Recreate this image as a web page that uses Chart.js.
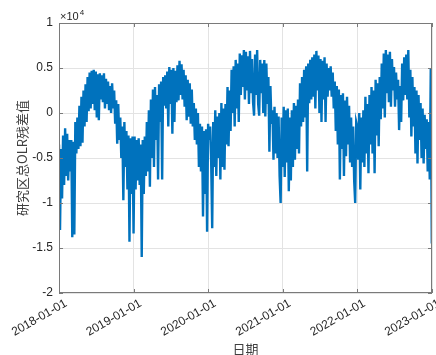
<!DOCTYPE html>
<html>
<head>
<meta charset="utf-8">
<script src="https://cdn.jsdelivr.net/npm/chart.js@4"></script>
<style>
  html, body { margin: 0; padding: 0; background: #fff; }
</style>
</head>
<body>
<canvas id="chart" width="436" height="355"></canvas>
<script>
// residual values, one value every 5 days
const y2018 = [-3500, -13000, -4000, -9500, -2500, -8000, -1700, -7000, -2300, -7500, -3000, -6500,
  -3000, -13800, -3200, -13500, -1000, -4500, -500, -4000, 800, -3700, 1800, -3300,
  2500, -1500, 3200, -1000, 4000, 200, 4500, 500, 4700, 1000, 4800, 300,
  4600, -500, 4300, -800, 4400, 1500, 4200, 1200, 4400, 500, 3800, 1000,
  3500, 300, 3000, 0, 3300, 500, 2500, -1200, 1400, -3400, 1000, -3000,
  -500, -5000, -1500, -9700, -1000, -6000, -2000, -8500, -2500, -14300, -2800, -9000, -2600];
const y2019 = [-13400, -2600, -8500, -3000, -7500, -2800, -8000, -3500, -16000, -3000, -9000, -2600,
  -7000, -1000, -6500, 300, -8200, 1500, -5000, 2600, -6000, 2900, -3000, 2000,
  -7400, 3200, -1000, 3500, -7400, 4000, 800, 4200, 500, 4600, -1500, 5100,
  1000, 4800, -2300, 5000, -1000, 4700, 1200, 5300, 1400, 5800, 2000, 5400,
  1500, 4800, 700, 4200, -800, 3700, -400, 3300, -1200, 2600, -1500, 1100,
  -3000, 500, -3500, 0, -6000, -1200, -6500, -1500, -11500, -2000, -9000, -1800, -13200];
const y2020 = [-1200, -3000, -1500, -5500, -12800, -1000, -6000, 300, -7000, -400, -5000, 0,
  -7400, 1100, -6000, 500, -6300, 1000, -3500, 2900, -3700, 2500, -2000, 4800,
  0, 5200, -1500, 5900, 500, 5500, -1000, 6600, 2000, 6400, 2900, 7000,
  1500, 6800, 2500, 6300, 1000, 6900, 2200, 6000, 1200, -300, 6500, 2000,
  7000, 1000, -300, 5900, 2200, 5500, 0, 5900, -400, 5500, 1000, 4000,
  -4300, 3000, -1200, 300, -5200, 700, -4500, 0, -5000, -400, -7000, -10000, -500];
const y2021 = [-6000, 700, -7100, 300, -5500, 500, -8700, -500, -7500, 300, -6000, 1100,
  -5200, 800, -4000, 1500, -4500, 3300, -1500, 4000, -1000, 4800, -500, 5200,
  -6500, 5500, 1100, 5900, 1500, 6200, 1800, 6500, 500, 6900, 2500, 6400,
  0, 6000, -1000, 5800, 1500, 6200, -1000, 5500, 1800, 5000, 2500, 5200,
  1800, 4500, 500, 3500, -2000, 3000, -3500, 2600, -7400, 2000, -4000, 2200,
  -7000, 1400, -4800, 1800, -3500, 800, -5500, -500, -6000, -1500, -7500, -10000, -1000];
const y2022 = [-1500, -5200, 0, -8500, -500, -5500, 300, -6000, 1800, -4500, 1000, -6700,
  2000, -3500, 2900, -4500, 2500, -6700, 3700, -2500, 3300, -3700, 4000, -700,
  5500, 500, 6600, -500, 7000, 2200, 6500, 1200, 6800, 700, 6000, 2500,
  5100, 700, 4500, 1500, 3700, -1900, 3000, -1000, 5500, 1400, 6200, 2000,
  6500, 1500, 7000, -500, 4800, -2600, 4000, -1500, 2900, -4500, 2500, -5600,
  2000, -3000, 1100, -5000, 500, -5600, -200, -4000, -700, -6500, -1000, -7400, 5000, -14500];

const yearSeries = [y2018, y2019, y2020, y2021, y2022];
const yearStartDay = [0, 365, 730, 1095, 1460];
const stepDays = 5;

const xTickDays = [0, 365, 730, 1096, 1461, 1826];
const xTickLabels = ["2018-01-01", "2019-01-01", "2020-01-01", "2021-01-01", "2022-01-01", "2023-01-01"];
const yTickValues = [-20000, -15000, -10000, -5000, 0, 5000, 10000];
const yTickLabels = ["-2", "-1.5", "-1", "-0.5", "0", "0.5", "1"];

const points = [];
yearSeries.forEach((arr, k) => {
  arr.forEach((v, i) => points.push({ x: yearStartDay[k] + i * stepDays, y: v }));
});

const tickFont = { family: "'Liberation Sans', Arial, sans-serif", size: 12 };
const cjkFont = { family: "'Noto Sans CJK SC', sans-serif", size: 13 };

// box, inner tick marks, rotated date labels and the x10^4 exponent, matlab style
const matlabAxes = {
  id: "matlabAxes",
  afterDraw(chart) {
    const { ctx, chartArea: a } = chart;
    const xs = chart.scales.x, ys = chart.scales.y;
    ctx.save();
    ctx.strokeStyle = "#7a7a7a";
    ctx.lineWidth = 1;
    ctx.strokeRect(a.left + 0.5, a.top + 0.5, a.right - a.left - 1, a.bottom - a.top - 1);
    ctx.beginPath();
    xTickDays.forEach((d) => {
      const px = Math.round(xs.getPixelForValue(d)) + 0.5;
      ctx.moveTo(px, a.bottom); ctx.lineTo(px, a.bottom - 4);
      ctx.moveTo(px, a.top); ctx.lineTo(px, a.top + 4);
    });
    yTickValues.forEach((v) => {
      const py = Math.round(ys.getPixelForValue(v)) + 0.5;
      ctx.moveTo(a.left, py); ctx.lineTo(a.left + 4, py);
      ctx.moveTo(a.right, py); ctx.lineTo(a.right - 4, py);
    });
    ctx.stroke();

    ctx.fillStyle = "#262626";
    ctx.font = "12px 'Liberation Sans', Arial, sans-serif";
    ctx.textAlign = "right";
    ctx.textBaseline = "middle";
    xTickDays.forEach((d, i) => {
      const px = xs.getPixelForValue(d);
      ctx.save();
      ctx.translate(px + 7, a.bottom + 9.5);
      ctx.rotate(-Math.PI / 6);
      ctx.fillText(xTickLabels[i], 0, 0);
      ctx.restore();
    });

    ctx.textAlign = "left";
    ctx.textBaseline = "alphabetic";
    ctx.font = "11px 'Liberation Sans', Arial, sans-serif";
    ctx.fillText("×10", a.left + 1, a.top - 3);
    const w = ctx.measureText("×10").width;
    ctx.font = "8px 'Liberation Sans', Arial, sans-serif";
    ctx.fillText("4", a.left + 1 + w + 1, a.top - 8);
    ctx.restore();
  }
};

new Chart(document.getElementById("chart"), {
  type: "line",
  data: {
    datasets: [{
      data: points,
      borderColor: "#0072BD",
      borderWidth: 2.4,
      pointRadius: 0,
      tension: 0,
      fill: false,
    }],
  },
  options: {
    responsive: false,
    animation: false,
    parsing: false,
    layout: { padding: { top: 23, right: 4, left: 0, bottom: 0 } },
    plugins: { legend: { display: false }, tooltip: { enabled: false } },
    scales: {
      x: {
        type: "linear",
        min: 0,
        max: 1826,
        afterBuildTicks: (s) => { s.ticks = xTickDays.map((d) => ({ value: d })); },
        afterFit: (s) => { s.height = 62; s.paddingLeft = 0; s.paddingRight = 0; },
        ticks: { display: false },
        grid: { color: "#e3e3e3", drawTicks: false },
        border: { display: false },
        title: { display: true, text: "日期", font: cjkFont, color: "#404040", padding: { top: 0, bottom: -2 } },
      },
      y: {
        min: -20000,
        max: 10000,
        afterBuildTicks: (s) => { s.ticks = yTickValues.map((v) => ({ value: v })); },
        afterFit: (s) => { s.width = 59; },
        ticks: {
          padding: 6,
          font: tickFont,
          color: "#262626",
          callback: (v) => yTickLabels[yTickValues.indexOf(v)],
        },
        grid: { color: "#e3e3e3", drawTicks: false },
        border: { display: false },
        title: { display: true, text: "研究区总OLR残差值", font: cjkFont, color: "#404040", padding: { top: 14, bottom: 0 } },
      },
    },
  },
  plugins: [matlabAxes],
});
</script>
</body>
</html>
